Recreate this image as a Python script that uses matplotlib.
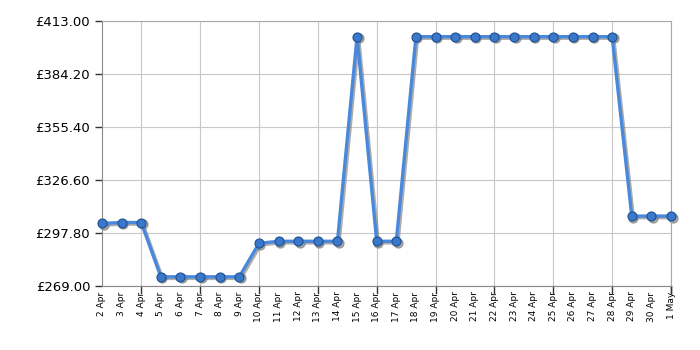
import matplotlib
matplotlib.use("Agg")
import matplotlib.pyplot as plt
import matplotlib.transforms as mtrans

dates = ["2 Apr", "3 Apr", "4 Apr", "5 Apr", "6 Apr", "7 Apr", "8 Apr", "9 Apr",
         "10 Apr", "11 Apr", "12 Apr", "13 Apr", "14 Apr", "15 Apr", "16 Apr",
         "17 Apr", "18 Apr", "19 Apr", "20 Apr", "21 Apr", "22 Apr", "23 Apr",
         "24 Apr", "25 Apr", "26 Apr", "27 Apr", "28 Apr", "29 Apr", "30 Apr", "1 May"]
prices = [303.0, 303.5, 303.5, 274.0, 274.0, 274.0, 274.0, 274.0,
          292.2, 293.3, 293.3, 293.3, 293.3, 404.5, 293.3,
          293.3, 404.5, 404.5, 404.5, 404.5, 404.5, 404.5,
          404.5, 404.5, 404.5, 404.5, 404.5, 307.0, 307.0, 307.0]
yticks = [269.00, 297.80, 326.60, 355.40, 384.20, 413.00]

fig = plt.figure(figsize=(7, 3.5), dpi=100)
ax = fig.add_axes([102/700, 1-286/350, (671-102)/700, (286-21)/350])

x = list(range(len(dates)))
shadow_tr = ax.transData + mtrans.ScaledTranslation(1.5/100, -1.5/100, fig.dpi_scale_trans)
ax.plot(x, prices, color="#777777", lw=2.6, marker="o", ms=6.5, mfc="#777777",
        mec="#777777", alpha=0.6, transform=shadow_tr, zorder=2, clip_on=False)
ax.plot(x, prices, color="#4a88dc", lw=2.4, marker="o", ms=6.5,
        mfc="#3a78cc", mec="#1f4f8f", mew=0.8, zorder=3, clip_on=False)

ax.set_xlim(0, len(dates)-1)
ax.set_ylim(269, 413)
ax.set_yticks(yticks)
ax.set_yticklabels([f"£{v:.2f}" for v in yticks], fontsize=9.5)
grid_x = [i for i in range(2, len(dates), 3)] + [len(dates)-1]
ax.set_xticks(x)
ax.set_xticklabels(dates, rotation=90, fontsize=6.5)
for i in grid_x:
    ax.axvline(i, color="#c8c8c8", lw=0.8, zorder=0)
for v in yticks:
    ax.axhline(v, color="#c8c8c8", lw=0.8, zorder=0)
ax.tick_params(axis="x", length=0, pad=4)
ax.tick_params(axis="y", length=5, color="#333333", width=1)
for i in grid_x:
    ax.plot([i, i], [0, -0.025], transform=ax.get_xaxis_transform(), color="#333333", lw=1, clip_on=False)
for s in ["left", "bottom"]:
    ax.spines[s].set_color("#888888")
for s in ["top", "right"]:
    ax.spines[s].set_color("#aaaaaa")

fig.savefig("out.png", dpi=100)
